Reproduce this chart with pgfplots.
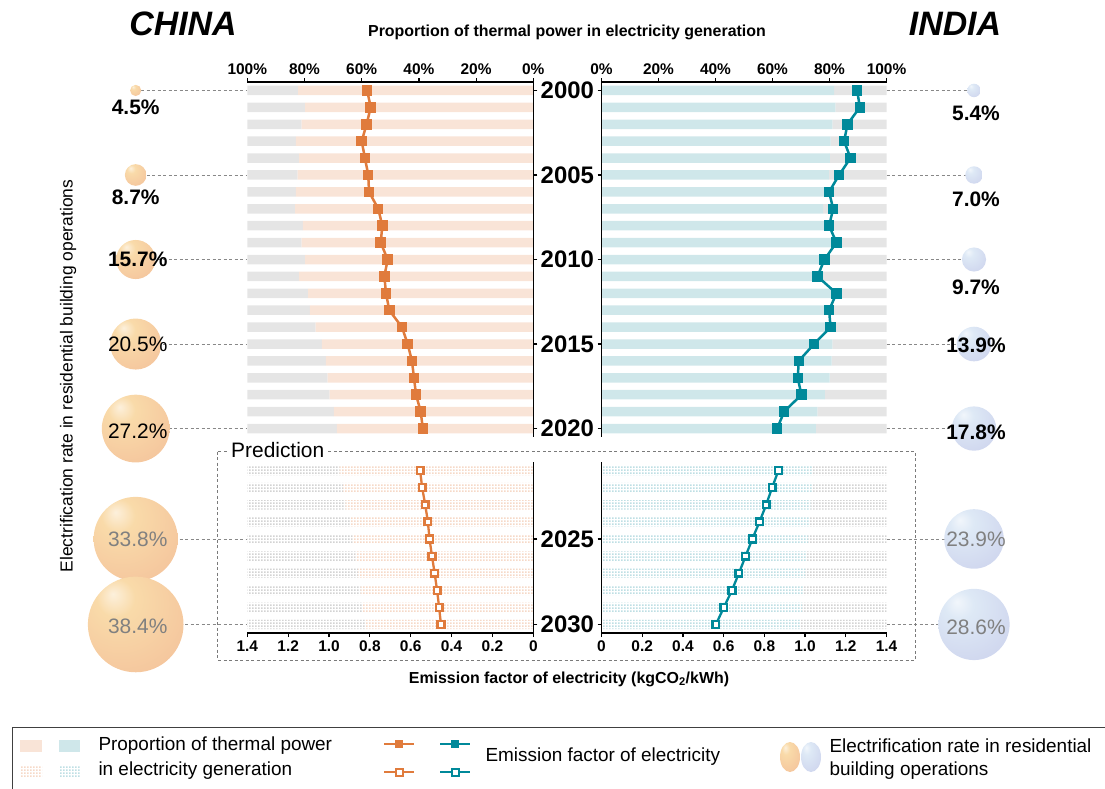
\documentclass[border=0pt]{standalone}
\usepackage{fontspec}
\setmainfont{Liberation Sans}
\usepackage{pgfplots}
\usepackage{pgfplotstable}
\pgfplotsset{compat=1.18}
\usetikzlibrary{patterns}

\definecolor{peach}{HTML}{F9E4D7}
\definecolor{greyb}{HTML}{E5E5E5}
\definecolor{lblue}{HTML}{CFE7EA}
\definecolor{orangeL}{HTML}{E07B3C}
\definecolor{tealL}{HTML}{00899A}
\definecolor{dashg}{HTML}{888888}
\definecolor{labg}{HTML}{808080}
\definecolor{cnA}{HTML}{F8D49A}
\definecolor{cnB}{HTML}{F0B2A0}
\definecolor{inA}{HTML}{D8E5F4}
\definecolor{inB}{HTML}{C3C2E6}

\pgfdeclareradialshading{cnball}{\pgfpoint{-12bp}{16bp}}{%
  color(0bp)=(white!65!cnA); color(10bp)=(white!15!cnA); color(38bp)=(cnA!55!cnB);
  color(60bp)=(cnB); color(75bp)=(cnB)}
\pgfdeclareradialshading{inball}{\pgfpoint{-12bp}{16bp}}{%
  color(0bp)=(white!65!inA); color(10bp)=(white!15!inA); color(38bp)=(inA!55!inB);
  color(60bp)=(inB); color(75bp)=(inB)}
\pgfdeclareplotmark{cnbub}{\pgfpathcircle{\pgfpointorigin}{\pgfplotmarksize}\pgfshadepath{cnball}{0}\pgfusepath{discard}}
\pgfdeclareplotmark{inbub}{\pgfpathcircle{\pgfpointorigin}{\pgfplotmarksize}\pgfshadepath{inball}{0}\pgfusepath{discard}}

\pgfdeclarepatternformonly{dotgrid}{\pgfpointorigin}{\pgfpoint{3bp}{3.2bp}}{\pgfpoint{3bp}{3.2bp}}%
  {\pgfpathrectangle{\pgfpointorigin}{\pgfpoint{2bp}{2bp}}\pgfusepath{fill}}

\newcommand\tkfont{\fontsize{15.5}{16}\selectfont\bfseries}
\newcommand\yrfont{\fontsize{24}{24}\selectfont\bfseries}
\newcommand\blfont{\fontsize{21}{22}\selectfont}
\newcommand\lgfont{\fontsize{19}{20}\selectfont}

% year, thermal share (%), other (%), emission factor (kgCO2/kWh)
\pgfplotstableread{
year th ot ef
2000 82.2 17.8 0.813
2001 79.8 20.2 0.796
2002 81.0 19.0 0.816
2003 83.0 17.0 0.840
2004 81.9 18.1 0.824
2005 82.4 17.6 0.808
2006 83.0 17.0 0.804
2007 83.3 16.7 0.759
2008 80.6 19.4 0.739
2009 81.0 19.0 0.747
2010 79.8 20.2 0.713
2011 81.9 18.1 0.729
2012 78.7 21.3 0.721
2013 78.1 21.9 0.705
2014 76.1 23.9 0.643
2015 73.9 26.1 0.615
2016 72.5 27.5 0.594
2017 71.9 28.1 0.584
2018 71.2 28.8 0.574
2019 69.7 30.3 0.551
2020 68.7 31.3 0.541
}\cntop
\pgfplotstableread{
year th ot ef
2021 67.7 32.3 0.554
2022 66.5 33.5 0.544
2023 65.6 34.4 0.529
2024 63.9 36.1 0.516
2025 63.2 36.8 0.508
2026 62.1 37.9 0.496
2027 61.3 38.7 0.483
2028 60.4 39.6 0.471
2029 59.7 40.3 0.461
2030 58.9 41.1 0.452
}\cnpred
\pgfplotstableread{
year th ot ef
2000 81.6 18.4 1.256
2001 82.1 17.9 1.269
2002 81.0 19.0 1.208
2003 80.4 19.6 1.192
2004 80.1 19.9 1.223
2005 79.8 20.2 1.167
2006 78.6 21.4 1.118
2007 77.8 22.2 1.138
2008 78.9 21.1 1.118
2009 81.0 19.0 1.154
2010 79.5 20.5 1.095
2011 77.8 22.2 1.061
2012 80.7 19.3 1.154
2013 81.3 18.7 1.118
2014 81.9 18.1 1.125
2015 81.0 19.0 1.044
2016 80.7 19.3 0.969
2017 80.0 20.0 0.964
2018 78.4 21.6 0.982
2019 75.7 24.3 0.897
2020 75.2 24.8 0.863
}\intop
\pgfplotstableread{
year th ot ef
2021 74.1 25.9 0.869
2022 74.1 25.9 0.838
2023 73.3 26.7 0.809
2024 72.9 27.1 0.776
2025 72.4 27.6 0.741
2026 72.0 28.0 0.708
2027 71.4 28.6 0.675
2028 71.0 29.0 0.641
2029 70.4 29.6 0.601
2030 69.9 30.1 0.562
}\inpred
% electrification rate in residential building operations (%)
\pgfplotstableread{
x year r
0 2000 4.5
0 2005 8.7
0 2010 15.7
0 2015 20.5
0 2020 27.2
}\cnbubtop
\pgfplotstableread{
x year r
0 2025 33.8
0 2030 38.4
}\cnbubpred
\pgfplotstableread{
x year r
1 2000 5.4
1 2005 7.0
1 2010 9.7
1 2015 13.9
1 2020 17.8
}\inbubtop
\pgfplotstableread{
x year r
1 2025 23.9
1 2030 28.6
}\inbubpred

\pgfplotsset{
  base/.style={scale only axis, clip=false, anchor=north west,
    /pgf/number format/assume math mode=true, /pgf/number format/1000 sep={},
    tick align=outside, major tick length=4bp,
    tick style={black, line width=1.2bp},
    axis line style={-, black, line width=1.3bp},
    ticklabel style={font=\tkfont}},
  topgeom/.style={height=355bp, ymin=1999.5, ymax=2020.5, y dir=reverse},
  botgeom/.style={height=171bp, ymin=2020.5, ymax=2030.5, y dir=reverse},
  cn/.style={width=286bp, x dir=reverse},
  in/.style={width=285bp},
  yrlab/.style={yticklabel style={font=\yrfont, anchor=center, xshift=30bp}},
  efline/.style={line width=2.5bp, mark=square*, mark size=4bp},
  efopen/.style={line width=2.3bp, mark=square*, mark size=3.4bp, mark options={fill=white}},
  dline/.style={xcomb, mark=none, dashg, line width=0.9bp, dash pattern=on 3bp off 2.5bp},
  bubble/.style={scatter, only marks, mark=#1,
    visualization depends on={1.25*\thisrow{r} \as \rad},
    scatter/@pre marker code/.append style={/tikz/mark size=\rad}},
}

\begin{document}
\begin{tikzpicture}
\useasboundingbox (0,0) rectangle (1105bp,-789bp);

% ---------- CHINA, 2000-2020 ----------
\begin{axis}[base, cn, topgeom, at={(247.3bp,-82bp)}, axis on top,
  xmin=0, xmax=100, axis x line*=top, axis y line*=right,
  xtick={0,20,40,60,80,100}, xticklabel={\pgfmathprintnumber{\tick}\%},
  ytick={2000,2005,2010,2015,2020}, yrlab,
  xbar stacked, bar width=9.5bp]
\addplot[fill=peach, draw=none] table[x=th, y=year] {\cntop};
\addplot[fill=greyb, draw=none] table[x=ot, y=year] {\cntop};
\end{axis}
\begin{axis}[base, cn, topgeom, at={(247.3bp,-82bp)}, xmin=0, xmax=1.4, hide axis]
\addplot[orangeL, efline] table[x=ef, y=year] {\cntop};
\end{axis}

% ---------- CHINA, prediction ----------
\begin{axis}[base, cn, botgeom, at={(247.3bp,-462bp)}, xmin=0, xmax=100, hide axis,
  xbar stacked, bar width=9.5bp]
\addplot[pattern=dotgrid, pattern color=peach!90!orangeL, draw=none] table[x=th, y=year] {\cnpred};
\addplot[pattern=dotgrid, pattern color=greyb!92!black, draw=none] table[x=ot, y=year] {\cnpred};
\end{axis}
\begin{axis}[base, cn, botgeom, at={(247.3bp,-462bp)}, xmin=0, xmax=1.4,
  axis x line*=bottom, axis y line*=right,
  xtick={0,0.2,0.4,0.6,0.8,1,1.2,1.4}, xticklabels={0,0.2,0.4,0.6,0.8,1.0,1.2,1.4},
  ytick={2025,2030}, yrlab]
\addplot[orangeL, efopen] table[x=ef, y=year] {\cnpred};
\end{axis}

% ---------- INDIA, 2000-2020 ----------
\begin{axis}[base, in, topgeom, at={(601.5bp,-82bp)}, axis on top,
  xmin=0, xmax=100, axis x line*=top, axis y line*=left,
  xtick={0,20,40,60,80,100}, xticklabel={\pgfmathprintnumber{\tick}\%},
  ytick={2000,2005,2010,2015,2020}, yticklabels={},
  xbar stacked, bar width=9.5bp]
\addplot[fill=lblue, draw=none] table[x=th, y=year] {\intop};
\addplot[fill=greyb, draw=none] table[x=ot, y=year] {\intop};
\end{axis}
\begin{axis}[base, in, topgeom, at={(601.5bp,-82bp)}, xmin=0, xmax=1.4, hide axis]
\addplot[tealL, efline] table[x=ef, y=year] {\intop};
\end{axis}

% ---------- INDIA, prediction ----------
\begin{axis}[base, in, botgeom, at={(601.5bp,-462bp)}, xmin=0, xmax=100, hide axis,
  xbar stacked, bar width=9.5bp]
\addplot[pattern=dotgrid, pattern color=lblue!92!tealL, draw=none] table[x=th, y=year] {\inpred};
\addplot[pattern=dotgrid, pattern color=greyb!92!black, draw=none] table[x=ot, y=year] {\inpred};
\end{axis}
\begin{axis}[base, in, botgeom, at={(601.5bp,-462bp)}, xmin=0, xmax=1.4,
  axis x line*=bottom, axis y line*=left,
  xtick={0,0.2,0.4,0.6,0.8,1,1.2,1.4}, xticklabels={0,0.2,0.4,0.6,0.8,1.0,1.2,1.4},
  ytick={2025,2030}, yticklabels={}]
\addplot[tealL, efopen] table[x=ef, y=year] {\inpred};
\end{axis}

% ---------- bubbles, China ----------
\begin{axis}[base, topgeom, at={(135.7bp,-82bp)}, width=111.6bp, xmin=0, xmax=1, hide axis,
  after end axis/.append code={
    \node[font=\blfont\bfseries] at (axis cs:0,2000) [yshift=-17bp] {4.5\%};
    \node[font=\blfont\bfseries] at (axis cs:0,2005) [yshift=-22bp] {8.7\%};
    \node[font=\blfont\bfseries] at (axis cs:0,2010) [xshift=2bp] {15.7\%};
    \node[font=\blfont] at (axis cs:0,2015) [xshift=2bp] {20.5\%};
    \node[font=\blfont] at (axis cs:0,2020) [xshift=2bp, yshift=-3bp] {27.2\%};
  }]
\addplot[dline] coordinates {(1,2000) (1,2005) (1,2010) (1,2015) (1,2020)};
\addplot[bubble=cnbub] table[x=x, y=year] {\cnbubtop};
\end{axis}
\begin{axis}[base, botgeom, at={(135.7bp,-462bp)}, width=111.6bp, xmin=0, xmax=1, hide axis,
  after end axis/.append code={
    \node[font=\blfont, text=labg] at (axis cs:0,2025) [xshift=2bp] {33.8\%};
    \node[font=\blfont, text=labg] at (axis cs:0,2030) [xshift=2bp, yshift=-2bp] {38.4\%};
  }]
\addplot[dline] coordinates {(1,2025) (1,2030)};
\addplot[bubble=cnbub] table[x=x, y=year] {\cnbubpred};
\end{axis}

% ---------- bubbles, India ----------
\begin{axis}[base, topgeom, at={(886.5bp,-82bp)}, width=87.5bp, xmin=0, xmax=1, hide axis,
  after end axis/.append code={
    \node[font=\blfont\bfseries] at (axis cs:1,2000) [xshift=2bp, yshift=-23bp] {5.4\%};
    \node[font=\blfont\bfseries] at (axis cs:1,2005) [xshift=2bp, yshift=-24bp] {7.0\%};
    \node[font=\blfont\bfseries] at (axis cs:1,2010) [xshift=2bp, yshift=-28bp] {9.7\%};
    \node[font=\blfont\bfseries] at (axis cs:1,2015) [xshift=2bp, yshift=-1bp] {13.9\%};
    \node[font=\blfont\bfseries] at (axis cs:1,2020) [xshift=2bp, yshift=-4bp] {17.8\%};
  }]
\addplot[dline] coordinates {(1,2000) (1,2005) (1,2010) (1,2015) (1,2020)};
\addplot[bubble=inbub] table[x=x, y=year] {\inbubtop};
\end{axis}
\begin{axis}[base, botgeom, at={(886.5bp,-462bp)}, width=87.5bp, xmin=0, xmax=1, hide axis,
  after end axis/.append code={
    \node[font=\blfont, text=labg] at (axis cs:1,2025) [xshift=2bp] {23.9\%};
    \node[font=\blfont, text=labg] at (axis cs:1,2030) [xshift=2bp, yshift=-3bp] {28.6\%};
  }]
\addplot[dline] coordinates {(1,2025) (1,2030)};
\addplot[bubble=inbub] table[x=x, y=year] {\inbubpred};
\end{axis}

% ---------- titles ----------
\node[font=\bfseries\itshape\fontsize{34}{36}\selectfont] at (183bp,-24bp) {CHINA};
\node[font=\bfseries\itshape\fontsize{34}{36}\selectfont] at (955bp,-24bp) {INDIA};
\node[font=\bfseries\fontsize{16}{18}\selectfont] at (567bp,-32bp) {Proportion of thermal power in electricity generation};
\node[font=\bfseries\fontsize{16}{18}\selectfont] at (569bp,-679bp) {Emission factor of electricity (kgCO\textsubscript{2}/kWh)};
\node[rotate=90, font=\fontsize{17.5}{18}\selectfont] at (68bp,-376bp) {Electrification rate in residential building operations};

% prediction frame
\draw[dashg!90!black, line width=1bp, dash pattern=on 3bp off 2.5bp] (217.3bp,-451.7bp) rectangle (915.7bp,-660bp);
\node[fill=white, inner xsep=3bp, inner ysep=0bp, anchor=west, font=\blfont] at (228bp,-450bp) {Prediction};

% ---------- legend ----------
\draw[black!75, line width=1bp] (12bp,-727bp) rectangle (1120bp,-800bp);
\fill[peach] (20bp,-740bp) rectangle (42bp,-752bp);
\fill[lblue] (59bp,-740bp) rectangle (80bp,-752bp);
\fill[pattern=dotgrid, pattern color=peach!90!orangeL] (20bp,-766bp) rectangle (42bp,-776bp);
\fill[pattern=dotgrid, pattern color=lblue!92!tealL] (59bp,-766bp) rectangle (80bp,-776bp);
\node[anchor=west, font=\lgfont] at (95bp,-746bp) {Proportion of thermal power};
\node[anchor=west, font=\lgfont] at (95bp,-771bp) {in electricity generation};
\draw[orangeL, line width=2.5bp] (384bp,-744bp) -- (414bp,-744bp);
\fill[orangeL] (395bp,-748bp) rectangle (403bp,-740bp);
\draw[tealL, line width=2.5bp] (440bp,-744bp) -- (470bp,-744bp);
\fill[tealL] (451bp,-748bp) rectangle (459bp,-740bp);
\draw[orangeL, line width=2.3bp] (384bp,-772bp) -- (414bp,-772bp);
\filldraw[orangeL, fill=white, line width=2bp] (395.5bp,-775.5bp) rectangle (402.5bp,-768.5bp);
\draw[tealL, line width=2.3bp] (440bp,-772bp) -- (470bp,-772bp);
\filldraw[tealL, fill=white, line width=2bp] (451.5bp,-775.5bp) rectangle (458.5bp,-768.5bp);
\node[anchor=west, font=\lgfont] at (482bp,-757bp) {Emission factor of electricity};
\shade[shading=cnball] (790bp,-757bp) ellipse (10bp and 15bp);
\shade[shading=inball] (811bp,-757bp) ellipse (10bp and 15bp);
\node[anchor=west, font=\lgfont] at (826bp,-746bp) {Electrification rate in residential};
\node[anchor=west, font=\lgfont] at (826bp,-771bp) {building operations};
\end{tikzpicture}
\end{document}
